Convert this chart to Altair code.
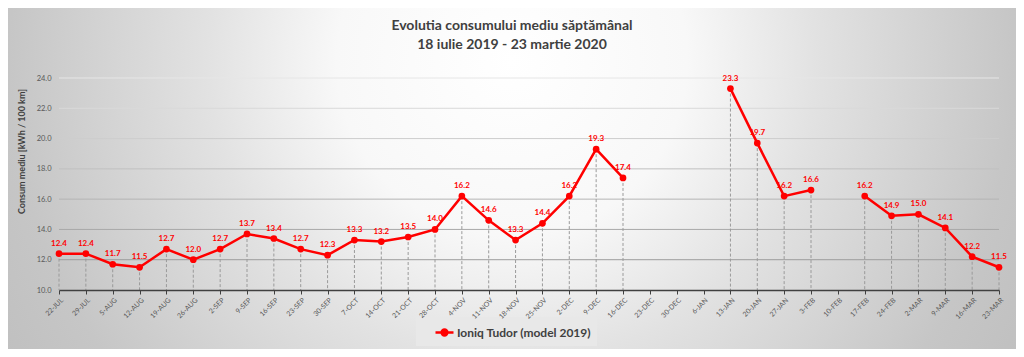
import altair as alt
import pandas as pd

weeks = ["22-JUL", "29-JUL", "5-AUG", "12-AUG", "19-AUG", "26-AUG", "2-SEP", "9-SEP",
         "16-SEP", "23-SEP", "30-SEP", "7-OCT", "14-OCT", "21-OCT", "28-OCT", "4-NOV",
         "11-NOV", "18-NOV", "25-NOV", "2-DEC", "9-DEC", "16-DEC", "23-DEC", "30-DEC",
         "6-JAN", "13-JAN", "20-JAN", "27-JAN", "3-FEB", "10-FEB", "17-FEB", "24-FEB",
         "2-MAR", "9-MAR", "16-MAR", "23-MAR"]
consum = [12.4, 12.4, 11.7, 11.5, 12.7, 12.0, 12.7, 13.7, 13.4, 12.7, 12.3, 13.3,
          13.2, 13.5, 14.0, 16.2, 14.6, 13.3, 14.4, 16.2, 19.3, 17.4, None, None,
          None, 23.3, 19.7, 16.2, 16.6, None, 16.2, 14.9, 15.0, 14.1, 12.2, 11.5]
y_ticks = [10, 12, 14, 16, 18, 20, 22, 24]
grid_vals = [12, 14, 16, 18, 20, 22, 24]
serie = "Ioniq Tudor (model 2019)"
title_lines = ["Evolutia consumului mediu săptămânal", "18 iulie 2019 - 23 martie 2020"]
y_title = "Consum mediu [kWh / 100 km]"

FONT = "Lato"
W, H = 940, 212

df = pd.DataFrame({"week": weeks, "consum": consum, "serie": serie})
grid_df = pd.DataFrame({"consum": grid_vals})
one_df = pd.DataFrame({"a": [0]})

x_enc = alt.X("week:N", sort=weeks,
              scale=alt.Scale(type="point", domain=weeks, padding=0),
              axis=alt.Axis(title=None, labelAngle=-45, labelFont=FONT, labelFontSize=7,
                            labelColor="#595959", domainColor="#404040", domainWidth=1.5,
                            tickColor="#404040", tickSize=4, labelPadding=2, zindex=1))
y_scale = alt.Scale(domain=[10, 24], nice=False, zero=False)
y_axis = alt.Axis(values=y_ticks, format=".1f", grid=False, domain=False, ticks=False,
                  labelOverlap=False, tickCount=8,
                  title=y_title, titleFont=FONT, titleFontSize=9, titleFontWeight="bold",
                  titleColor="#404040", titlePadding=10, titleY=73, labelFont=FONT, labelFontSize=7.5,
                  labelColor="#595959", labelPadding=8, zindex=1)
y_enc = alt.Y("consum:Q", scale=y_scale, axis=y_axis)

bg = alt.Chart(one_df).mark_rect(
    color=alt.RadialGradient(
        gradient="radial", x1=0.5, y1=0.5, x2=0.5, y2=0.5, r1=0, r2=0.58,
        stops=[alt.GradientStop(offset=0, color="#ffffff"),
               alt.GradientStop(offset=0.3, color="#f8f8f8"),
               alt.GradientStop(offset=0.52, color="#e2e2e2"),
               alt.GradientStop(offset=0.86, color="#c6c6c6"),
               alt.GradientStop(offset=1, color="#c0c0c0")])
).encode(x=alt.value(-51), x2=alt.value(957), y=alt.value(-522), y2=alt.value(486))

title1 = alt.Chart(one_df).mark_text(
    text=title_lines[0], font=FONT, fontSize=14, fontWeight="bold", color="#404040", baseline="middle"
).encode(x=alt.value(453), y=alt.value(-52))
title2 = alt.Chart(one_df).mark_text(
    text=title_lines[1], font=FONT, fontSize=14, fontWeight="bold", color="#404040", baseline="middle"
).encode(x=alt.value(453), y=alt.value(-33))

grid = alt.Chart(grid_df).mark_rule(strokeWidth=1).encode(
    y=y_enc,
    stroke=alt.Stroke("consum:Q", scale=alt.Scale(domain=[12, 24], range=["#9c9c9c", "#e6e6e6"]), legend=None),
)

base = alt.Chart(df).encode(x=x_enc)
valid = base.transform_filter("datum.consum != null")

drops = valid.mark_rule(strokeDash=[3, 2], color="#9a9a9a", strokeWidth=1).encode(
    y=y_enc, y2=alt.datum(10))

line = base.mark_line(strokeWidth=2.5, point=alt.OverlayMarkDef(size=45, filled=True, color="#ff0000")).encode(
    y=y_enc,
    color=alt.Color("serie:N", scale=alt.Scale(range=["#ff0000"]),
                    legend=alt.Legend(title=None, orient="none", legendX=357, legendY=239,
                                      fillColor="#e8e8e8", padding=5, symbolOffset=13,
                                      labelFont=FONT, labelFontSize=12, labelFontWeight="bold",
                                      labelColor="#404040", labelOffset=2,
                                      symbolType="M -1 0 L 1 0 M -0.32 0 A 0.32 0.32 0 1 1 0.32 0 A 0.32 0.32 0 1 1 -0.32 0 Z",
                                      symbolSize=324, symbolStrokeWidth=2.5,
                                      symbolFillColor="#ff0000", symbolStrokeColor="#ff0000")),
)

labels = valid.mark_text(font=FONT, fontSize=8, fontWeight="bold", color="#ff0000", dy=-10).encode(
    y=y_enc, text=alt.Text("consum:Q", format=".1f"))

chart = alt.layer(bg, grid, drops, line, labels, title1, title2).properties(
    width=W, height=H,
    autosize="none",
    padding={"left": 51, "top": 70, "right": 17, "bottom": 59},
    background="white",
).configure_view(stroke=None)

chart.save("out.html", embed_options={"renderer": "svg", "actions": False})
